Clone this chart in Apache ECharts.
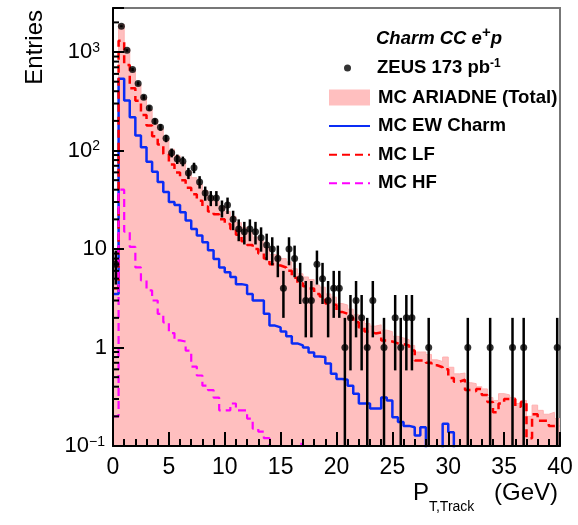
<!DOCTYPE html>
<html><head><meta charset="utf-8">
<script src="https://cdn.jsdelivr.net/npm/echarts@6/dist/echarts.min.js"></script>
<style>html,body{margin:0;padding:0;background:#fff}#c{width:578px;height:525px}</style>
</head><body><div id="c"></div>
<script>
// ---- binning ----
const binWidth = 0.5;
const nBins = 80;
// ---- ZEUS data (entries per 0.5 GeV bin) ----
const dataCounts = [7,1830,1040,665,480,348,270,198,172,133,
  95,82,78,59,67,48,37,33,33,26,
  28,20,16,15,16,15,13,11,10,8,
  4,10,8,5,3,3,7,5,3,4,
  4,1,2,3,2,1,3,0,1,0,
  2,1,2,2,0,0,1,0,0,0,
  0,0,0,1,0,0,0,1,0,0,
  0,1,0,1,0,0,0,0,0,1];
// ---- MC ARIADNE total ----
const mcTotal = [8,1900,1080,660,470,345,262,205,166,132,
  103,89,75,62,53,45,39,34,30.5,27,
  24,21.5,18.5,16.6,14.7,13.2,12.1,10.3,8.8,8.5,
  8.0,7.4,6.3,5.6,5.2,4.9,4.3,4.1,3.5,3.25,
  2.8,2.7,2.45,2.15,1.9,1.75,1.65,1.7,1.5,1.45,
  1.3,1.25,1.2,1.05,0.9,0.9,0.85,0.75,0.72,0.8,
  0.63,0.54,0.55,0.44,0.43,0.40,0.38,0.31,0.29,0.34,
  0.33,0.31,0.27,0.29,0.2,0.26,0.23,0.21,0.22,0.19];
// ---- MC EW charm ----
const mcEW = [3.5,535,322,218,142,108,77,61,48,38,
  30,28,23.6,19.5,16,13.7,11.7,9.7,7.9,6.5,
  5.8,5.2,4.4,4.3,3.5,3.0,3.0,2.2,1.67,1.6,
  1.45,1.3,1.1,1.05,1.0,0.89,0.81,0.80,0.69,0.54,
  0.48,0.47,0.41,0.34,0.27,0.27,0.24,0.24,0.31,0.29,
  0.196,0.175,0.16,0.155,0.128,0.155,0,0,0,0.168,
  0.138,0,0,0,0,0,0,0,0,0,
  0,0,0,0,0,0,0,0,0,0];
// ---- MC LF ----
const mcLF = [4,1300,740,430,320,230,180,140,115,92,
  72,60,50,42,36,31,27,24,22.5,20,
  18,16,14,12,11,10,9,8,7,6.8,
  6.5,6.0,5.1,4.5,4.2,3.97,3.5,3.3,2.8,2.7,
  2.3,2.2,2.0,1.8,1.6,1.45,1.39,1.42,1.18,1.15,
  1.1,1.08,1.05,0.93,0.74,0.74,0.70,0.66,0.63,0.60,
  0.49,0.45,0.47,0.37,0.36,0.38,0.33,0.28,0.22,0.27,
  0.30,0.30,0.25,0.28,0.12,0.21,0.18,0.18,0.16,0.16];
// ---- MC HF ----
const mcHF = [0.2,40,15,10.5,6.5,4.8,3.8,3.0,2.2,1.8,
  1.4,1.18,1.15,0.93,0.64,0.52,0.41,0.37,0.31,0.23,
  0.23,0.27,0.23,0.23,0.19,0.15,0.14,0.12,0,0,
  0,0,0,0.105,0,0,0,0,0,0,
  0,0,0,0,0,0,0,0,0,0,
  0,0,0,0,0,0,0,0,0,0,
  0,0,0,0,0,0,0,0,0,0,
  0,0,0,0,0,0,0,0,0,0];
// ---- axes / ticks ----
const xMin = 0, xMax = 40, xStep = 5;
const xTickLabels = ['0','5','10','15','20','25','30','35','40'];
const yMin = 0.1, yMax = 2800;
const yTickValues = [0.1, 1, 10, 100, 1000];
const yTickBase = ['10', '1', '10', '10', '10'];
const yTickSup = ['\u22121', '', '', '2', '3'];

const FONT = 'Liberation Sans, Arial, Helvetica, sans-serif';
const EMPTY = 1e-3; // drawing floor for empty bins (below the axis)

function histPoints(vals) {
  const pts = vals.map((v, i) => [i * binWidth, v > 0 ? v : EMPTY]);
  const last = vals[vals.length - 1];
  pts.push([nBins * binWidth, last > 0 ? last : EMPTY]);
  return pts;
}
const centers = dataCounts.map((n, i) => (i + 0.5) * binWidth);
const dataPts = [];
const errPts = [];
dataCounts.forEach((n, i) => {
  if (n > 0) {
    dataPts.push([centers[i], n]);
    const e = Math.sqrt(n);
    errPts.push([centers[i], n, n - e, n + e]);
  }
});
const yMinor = [];
for (let d = -1; d <= 3; d++) for (let k = 2; k <= 9; k++) {
  const v = k * Math.pow(10, d);
  if (v < yMax) yMinor.push([0, +v.toPrecision(3)]);
}

function yFmt(v) {
  for (let i = 0; i < yTickValues.length; i++) {
    if (Math.abs(v - yTickValues[i]) / yTickValues[i] < 1e-6) {
      const sup = yTickSup[i];
      if (!sup) return '{b|' + yTickBase[i] + '}';
      return '{b|' + yTickBase[i] + '}' + (sup.charAt(0) === '\u2212' ? '{n|' : '{s|') + sup + '}';
    }
  }
  return '';
}
function xFmt(v) {
  const i = Math.round((v - xMin) / xStep);
  return Math.abs(v - (xMin + i * xStep)) < 1e-6 ? (xTickLabels[i] || '') : '';
}

const hideSym = {opacity: 0, borderWidth: 0};
const chart = echarts.init(document.getElementById('c'), null, {renderer: 'canvas'});
const option = {
  backgroundColor: '#fff',
  animation: false,
  textStyle: {fontFamily: FONT},
  title: {
    text: '{t|Charm CC e}{s|+}{t|p}',
    left: 376, top: 25, padding: 0,
    textStyle: {
      rich: {
        t: {fontSize: 18.5, fontWeight: 'bold', fontStyle: 'italic', fontFamily: FONT, color: '#000'},
        s: {fontSize: 15, fontWeight: 'bold', fontFamily: FONT, color: '#000', padding: [0, 0, 12, 0]}
      }
    }
  },
  legend: [
    {
      data: [{name: 'ZEUS 173 pb-1', icon: 'circle'}],
      left: 344, top: 58, padding: 0, orient: 'vertical',
      itemWidth: 7, itemHeight: 7, selectedMode: false,
      formatter: () => '{t|ZEUS 173 pb}{s|-1}',
      textStyle: {
        padding: [0, 0, 0, 21],
        rich: {
          t: {fontSize: 18.5, fontWeight: 'bold', fontFamily: FONT, color: '#000'},
          s: {fontSize: 12, fontWeight: 'bold', fontFamily: FONT, color: '#000', padding: [0, 0, 8, 0]}
        }
      }
    },
    {
      data: [
        {name: 'MC ARIADNE (Total)', icon: 'rect'},
        {name: 'MC EW Charm', itemStyle: hideSym},
        {name: 'MC LF', itemStyle: hideSym},
        {name: 'MC HF', itemStyle: hideSym}
      ],
      left: 328, top: 88, padding: 0, orient: 'vertical',
      itemWidth: 41, itemHeight: 16, itemGap: 9.6, selectedMode: false,
      textStyle: {fontSize: 18.6, fontWeight: 'bold', fontFamily: FONT, color: '#000', padding: [0, 0, 0, 3]}
    }
  ],
  grid: {
    left: 113, right: 18, top: 8, bottom: 79,
    show: true, borderColor: '#777', borderWidth: 2, backgroundColor: 'transparent',
    containLabel: false, outerBoundsMode: 'none'
  },
  xAxis: {
    type: 'value', min: xMin, max: xMax, interval: xStep, z: 10,
    name: '{a|P}{s|T,Track}{a| (GeV)}',
    nameLocation: 'end', nameGap: -2, nameMoveOverlap: false,
    nameTextStyle: {
      align: 'right', verticalAlign: 'top', padding: [26, 0, 0, 0],
      rich: {
        a: {fontSize: 24, fontFamily: FONT, color: '#000'},
        s: {fontSize: 14, fontFamily: FONT, color: '#000', padding: [28, 13, 0, 0]}
      }
    },
    axisLine: {onZero: false, lineStyle: {color: '#000', width: 2}},
    axisTick: {inside: true, length: 14, lineStyle: {color: '#000', width: 2}},
    minorTick: {show: true, splitNumber: 5, length: 7, lineStyle: {color: '#000', width: 2}},
    splitLine: {show: false},
    minorSplitLine: {show: false},
    axisLabel: {formatter: xFmt, fontSize: 23, color: '#000', fontFamily: FONT, margin: 10}
  },
  yAxis: {
    type: 'log', logBase: 10, min: yMin, max: yMax, z: 10,
    name: 'Entries', nameLocation: 'end', nameRotate: 90, nameGap: -2, nameMoveOverlap: false,
    nameTextStyle: {fontSize: 24, fontFamily: FONT, color: '#000', align: 'right', verticalAlign: 'bottom', padding: [0, 0, 66, 0]},
    axisLine: {lineStyle: {color: '#000', width: 2}},
    axisTick: {inside: true, length: 11, lineStyle: {color: '#000', width: 2}},
    splitLine: {show: false},
    axisLabel: {
      formatter: yFmt, margin: 6, color: '#000',
      rich: {
        b: {fontSize: 22, fontFamily: FONT, color: '#000'},
        s: {fontSize: 14, fontFamily: FONT, color: '#000', padding: [0, 7, 8, 0]},
        n: {fontSize: 14, fontFamily: FONT, color: '#000', padding: [0, 2, 8, 0]}
      }
    }
  },
  series: [
    {
      name: 'MC ARIADNE (Total)', type: 'line', step: 'end', data: histPoints(mcTotal),
      symbol: 'none', showSymbol: false, z: 1,
      itemStyle: {color: '#ffbfbf'},
      lineStyle: {color: '#ffb0b0', width: 1},
      areaStyle: {color: '#ffbfbf', opacity: 1}
    },
    {
      name: 'MC EW Charm', type: 'line', step: 'end', data: histPoints(mcEW),
      symbol: 'none', showSymbol: false, z: 3,
      itemStyle: {color: '#0a2cf5'},
      lineStyle: {color: '#0a2cf5', width: 2.5}
    },
    {
      name: 'MC LF', type: 'line', step: 'end', data: histPoints(mcLF),
      symbol: 'none', showSymbol: false, z: 3,
      itemStyle: {color: '#ff0000'},
      lineStyle: {color: '#ff0000', width: 2.5, type: [8, 5]}
    },
    {
      name: 'MC HF', type: 'line', step: 'end', data: histPoints(mcHF),
      symbol: 'none', showSymbol: false, z: 3,
      itemStyle: {color: '#ff00ff'},
      lineStyle: {color: '#ff00ff', width: 2.2, type: [8, 5]}
    },
    {
      name: 'errors', type: 'custom', data: errPts, z: 4, silent: true,
      encode: {x: 0, y: 1},
      renderItem: function (params, api) {
        const x = api.value(0);
        const a = api.coord([x, Math.min(api.value(3), yMax)]);
        const b = api.coord([x, Math.max(api.value(2), yMin)]);
        return {type: 'line', shape: {x1: a[0], y1: a[1], x2: b[0], y2: b[1]},
          style: {stroke: '#000', lineWidth: 2.5}};
      }
    },
    {
      name: 'ZEUS 173 pb-1', type: 'scatter', data: dataPts, z: 5,
      symbol: 'circle', symbolSize: 7, itemStyle: {color: '#000'}
    },
    {
      name: 'yminor', type: 'custom', data: yMinor, z: 20, silent: true,
      encode: {x: 0, y: 1},
      renderItem: function (params, api) {
        const p = api.coord([xMin, api.value(1)]);
        return {type: 'line', shape: {x1: p[0], y1: p[1], x2: p[0] + 6, y2: p[1]},
          style: {stroke: '#000', lineWidth: 2}};
      }
    }
  ]
};
chart.setOption(option);
</script></body></html>
